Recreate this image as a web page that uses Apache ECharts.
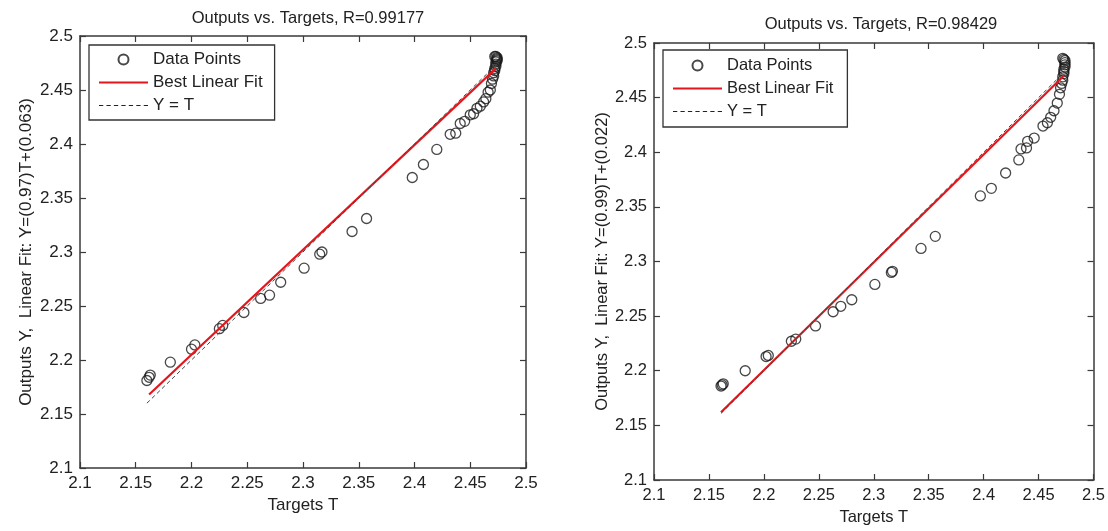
<!DOCTYPE html>
<html>
<head>
<meta charset="utf-8">
<script src="https://cdn.jsdelivr.net/npm/echarts@6/dist/echarts.min.js"></script>
<style>
html,body{margin:0;padding:0;background:#fff;}
#chart{width:1108px;height:531px;}
</style>
</head>
<body>
<div id="chart"></div>
<script>
// ---- data ----
const leftTitle = 'Outputs vs. Targets, R=0.99177';
const rightTitle = 'Outputs vs. Targets, R=0.98429';
const leftYName = 'Outputs Y,  Linear Fit: Y=(0.97)T+(0.063)';
const rightYName = 'Outputs Y,  Linear Fit: Y=(0.99)T+(0.022)';
const xName = 'Targets T';
const legendNames = ['Data Points', 'Best Linear Fit', 'Y = T'];

const leftTargets = [2.160,2.162,2.163,2.181,2.200,2.203,2.225,2.228,2.247,2.262,2.270,2.280,2.301,2.315,2.317,2.344,2.357,2.398,2.408,2.420,2.432,2.437,2.441,2.445,2.450,2.453,2.456,2.459,2.462,2.464,2.466,2.468,2.469,2.470,2.471,2.471,2.472,2.472,2.473,2.473,2.473,2.474,2.474,2.474,2.474,2.473,2.472];
const leftOutputs = [2.181,2.184,2.186,2.198,2.210,2.214,2.229,2.232,2.244,2.257,2.260,2.272,2.285,2.298,2.300,2.319,2.331,2.369,2.381,2.395,2.409,2.410,2.419,2.421,2.427,2.428,2.433,2.435,2.439,2.442,2.448,2.450,2.456,2.460,2.463,2.466,2.468,2.470,2.472,2.474,2.476,2.477,2.478,2.479,2.480,2.481,2.481];

const rightTargets = [2.161,2.162,2.163,2.183,2.202,2.204,2.225,2.229,2.247,2.263,2.270,2.280,2.301,2.316,2.317,2.343,2.356,2.397,2.407,2.420,2.432,2.434,2.439,2.440,2.446,2.454,2.458,2.461,2.464,2.467,2.469,2.470,2.471,2.472,2.472,2.473,2.473,2.473,2.474,2.474,2.474,2.474,2.473,2.472];
const rightOutputs = [2.186,2.187,2.188,2.200,2.213,2.214,2.227,2.229,2.241,2.254,2.259,2.265,2.279,2.290,2.291,2.312,2.323,2.360,2.367,2.381,2.393,2.403,2.404,2.410,2.413,2.424,2.427,2.432,2.438,2.445,2.453,2.459,2.463,2.466,2.469,2.472,2.474,2.476,2.478,2.480,2.482,2.484,2.485,2.486];

const leftFitT = [2.162, 2.473];
const leftFitY = [2.168, 2.470];
const rightFitT = [2.161, 2.473];
const rightFitY = [2.162, 2.470];
const leftIdentT = [2.160, 2.474];
const rightIdentT = [2.161, 2.474];

const axisMin = 2.1, axisMax = 2.5, axisStep = 0.05;

// ---- build ----
const zip = (a, b) => a.map((v, i) => [v, b[i]]);
const FONT = 'Liberation Sans';
const lineCol = '#3a3a3a';
const fmt = v => String(parseFloat(v.toFixed(2)));

// legend icon shapes (solid bar and dashed bar)
const solidIcon = 'path://M0,0L49,0L49,2.2L0,2.2Z';
let dashPath = '';
for (let x = 0; x < 49; x += 7) dashPath += 'M' + x + ',0L' + (x + 4) + ',0L' + (x + 4) + ',1.1L' + x + ',1.1Z';
const dashIcon = 'path://' + dashPath;

function mainX(grid, nameGap, fs) {
  return {
    type: 'value', gridIndex: grid, position: 'bottom', min: axisMin, max: axisMax, interval: axisStep,
    name: xName, nameLocation: 'middle', nameGap: nameGap,
    nameTextStyle: {fontFamily: FONT, fontSize: fs, color: '#222'},
    axisLine: {show: true, onZero: false, lineStyle: {color: lineCol, width: 1.5}},
    axisTick: {show: true, inside: true, length: 6, lineStyle: {color: lineCol, width: 1.2}},
    axisLabel: {fontFamily: FONT, fontSize: fs, color: '#222', margin: 7, formatter: fmt},
    splitLine: {show: false}
  };
}
function sideX(grid) {
  return {
    type: 'value', gridIndex: grid, position: 'top', min: axisMin, max: axisMax, interval: axisStep,
    axisLine: {show: true, onZero: false, lineStyle: {color: lineCol, width: 1.5}},
    axisTick: {show: true, inside: true, length: 6, lineStyle: {color: lineCol, width: 1.2}},
    axisLabel: {show: false}, splitLine: {show: false}
  };
}
function mainY(grid, name, nameGap, fs) {
  return {
    type: 'value', gridIndex: grid, position: 'left', min: axisMin, max: axisMax, interval: axisStep,
    name: name, nameLocation: 'middle', nameGap: nameGap,
    nameTextStyle: {fontFamily: FONT, fontSize: fs, color: '#222'},
    axisLine: {show: true, onZero: false, lineStyle: {color: lineCol, width: 1.5}},
    axisTick: {show: true, inside: true, length: 6, lineStyle: {color: lineCol, width: 1.2}},
    axisLabel: {fontFamily: FONT, fontSize: fs, color: '#222', margin: 7, formatter: fmt},
    splitLine: {show: false}
  };
}
function sideY(grid) {
  return {
    type: 'value', gridIndex: grid, position: 'right', min: axisMin, max: axisMax, interval: axisStep,
    axisLine: {show: true, onZero: false, lineStyle: {color: lineCol, width: 1.5}},
    axisTick: {show: true, inside: true, length: 6, lineStyle: {color: lineCol, width: 1.2}},
    axisLabel: {show: false}, splitLine: {show: false}
  };
}
function legend(left, top, fs, pad) {
  return {
    left: left, top: top, orient: 'vertical', itemWidth: 49, itemHeight: 10, itemGap: 6,
    padding: pad, borderColor: '#333', borderWidth: 1.3, backgroundColor: '#fff',
    textStyle: {fontFamily: FONT, fontSize: fs, color: '#222'},
    selectedMode: false,
    data: [
      {name: legendNames[0]},
      {name: legendNames[1], icon: solidIcon, itemStyle: {color: '#e3161c', borderWidth: 0}},
      {name: legendNames[2], icon: dashIcon, itemStyle: {color: '#222', borderWidth: 0}}
    ]
  };
}
function seriesFor(xi, yi, T, Y, fitT, fitY, identT) {
  return [
    {name: legendNames[0], type: 'scatter', xAxisIndex: xi, yAxisIndex: yi, data: zip(T, Y),
     symbol: 'circle', symbolSize: 10,
     itemStyle: {color: 'rgba(0,0,0,0)', borderColor: '#1a1a1a', borderWidth: 1.3}},
    {name: legendNames[1], type: 'line', xAxisIndex: xi, yAxisIndex: yi, data: zip(fitT, fitY),
     symbol: 'none', lineStyle: {color: '#e3161c', width: 2.2}, itemStyle: {color: '#e3161c'}},
    {name: legendNames[2], type: 'line', xAxisIndex: xi, yAxisIndex: yi, data: zip(identT, identT),
     symbol: 'none', lineStyle: {color: '#444', width: 1, type: [4, 3]}, itemStyle: {color: '#444'}}
  ];
}

const option = {
  animation: false,
  backgroundColor: '#fff',
  title: [
    {text: leftTitle, left: 303, top: 5, textAlign: 'center',
     textStyle: {fontFamily: FONT, fontSize: 16.5, fontWeight: 'normal', color: '#222'}},
    {text: rightTitle, left: 876, top: 11, textAlign: 'center',
     textStyle: {fontFamily: FONT, fontSize: 16.5, fontWeight: 'normal', color: '#222'}}
  ],
  legend: [legend(89, 45, 17, [6, 12, 6, 10]), legend(663, 50, 16.5, [7, 14, 7, 10])],
  grid: [
    {left: 80, top: 36, width: 446, height: 432, containLabel: false},
    {left: 654, top: 43, width: 442, height: 439, containLabel: false}
  ],
  xAxis: [mainX(0, 28, 17), sideX(0), mainX(1, 29, 16.5), sideX(1)],
  yAxis: [mainY(0, leftYName, 45, 17), sideY(0), mainY(1, rightYName, 38, 16.5), sideY(1)],
  series: [].concat(
    seriesFor(0, 0, leftTargets, leftOutputs, leftFitT, leftFitY, leftIdentT),
    seriesFor(2, 2, rightTargets, rightOutputs, rightFitT, rightFitY, rightIdentT)
  )
};
const chart = echarts.init(document.getElementById('chart'), null, {renderer: 'canvas'});
chart.setOption(option);
</script>
</body>
</html>
